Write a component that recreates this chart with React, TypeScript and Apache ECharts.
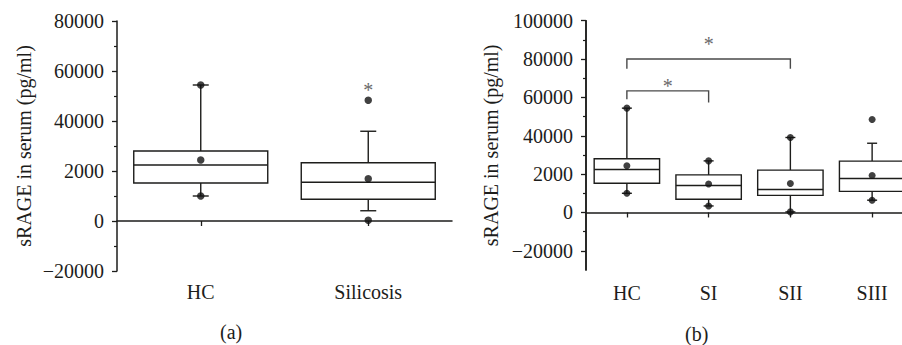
import React, { useEffect, useRef } from "react";
import * as echarts from "echarts";

// ---------- Panel (a) ----------
const catsA = ["HC", "Silicosis"];
const minA = [10000, 4100];
const q1A = [15200, 8700];
const medA = [22400, 15500];
const q3A = [28000, 23300];
const maxA = [54400, 35900];
const meanA = [24400, 16900];
const dotsA = [[0, 54400], [0, 10000], [1, 48300], [1, 300]];
const starsA = [[1, 52600]];
const tickValsA = [-20000, 0, 20000, 40000, 60000, 80000];
const tickLabelsA = ["\u221220000", "0", "2000", "40000", "60000", "80000"];

// ---------- Panel (b) ----------
const catsB = ["HC", "SI", "SII", "SIII"];
const minB = [10000, 3400, 300, 6400];
const q1B = [15200, 6900, 8900, 11000];
const medB = [22400, 14100, 12000, 17700];
const q3B = [28000, 19600, 22100, 26800];
const maxB = [54400, 26900, 39100, 36100];
const meanB = [24400, 14800, 15100, 19300];
const dotsB = [[0, 54400], [0, 10000], [1, 26900], [1, 3400], [2, 39100], [2, 300], [3, 48500], [3, 6400]];
// [from category, to category, top value, left leg end, right leg end, star value]
const bracketsB = [
  [0, 2, 80000, 75000, 75000, 87600],
  [0, 1, 63400, 59000, 57400, 66000],
];
const tickValsB = [-20000, 0, 20000, 40000, 60000, 80000, 100000];
const tickLabelsB = ["\u221220000", "0", "2000", "40000", "60000", "80000", "100000"];
const minorValsB = [-10000, 10000, 30000, 50000, 70000, 90000];

const FONT = "Liberation Serif";
const INK = "#1d1d1b";
const GREY = "#6a6a6a";

function boxRows(mn: number[], q1: number[], md: number[], q3: number[], mx: number[]) {
  return mn.map((_, i) => [i, mn[i], q1[i], md[i], q3[i], mx[i]]);
}

function boxRender(capHalf: number) {
  return (params: any, api: any) => {
    const cat = api.value(0);
    const pMin = api.coord([cat, api.value(1)]);
    const pQ1 = api.coord([cat, api.value(2)]);
    const pMd = api.coord([cat, api.value(3)]);
    const pQ3 = api.coord([cat, api.value(4)]);
    const pMax = api.coord([cat, api.value(5)]);
    const band = api.size([1, 0])[0];
    const half = band * 0.4;
    const x = pMd[0];
    const st = { stroke: INK, lineWidth: 1.4, fill: null };
    return {
      type: "group",
      children: [
        { type: "line", shape: { x1: x, y1: pQ3[1], x2: x, y2: pMax[1] }, style: st },
        { type: "line", shape: { x1: x, y1: pQ1[1], x2: x, y2: pMin[1] }, style: st },
        { type: "line", shape: { x1: x - capHalf, y1: pMax[1], x2: x + capHalf, y2: pMax[1] }, style: st },
        { type: "line", shape: { x1: x - capHalf, y1: pMin[1], x2: x + capHalf, y2: pMin[1] }, style: st },
        {
          type: "rect",
          shape: { x: x - half, y: pQ3[1], width: half * 2, height: pQ1[1] - pQ3[1] },
          style: { stroke: INK, lineWidth: 1.4, fill: "#ffffff" },
        },
        { type: "line", shape: { x1: x - half, y1: pMd[1], x2: x + half, y2: pMd[1] }, style: st },
      ],
    };
  };
}

function starRender(params: any, api: any) {
  const p = api.coord([api.value(0), api.value(1)]);
  return {
    type: "text",
    x: p[0],
    y: p[1],
    style: { text: "*", fontSize: 20, fontFamily: FONT, fill: GREY, align: "center", verticalAlign: "middle" },
  };
}

function bracketRender(params: any, api: any) {
  const a = api.value(0);
  const b = api.value(1);
  const pTopL = api.coord([a, api.value(2)]);
  const pTopR = api.coord([b, api.value(2)]);
  const pL = api.coord([a, api.value(3)]);
  const pR = api.coord([b, api.value(4)]);
  const pStar = api.coord([(a + b) / 2, api.value(5)]);
  const mid = (pTopL[0] + pTopR[0]) / 2;
  return {
    type: "group",
    children: [
      {
        type: "polyline",
        shape: { points: [[pL[0], pL[1]], [pTopL[0], pTopL[1]], [pTopR[0], pTopR[1]], [pR[0], pR[1]]] },
        style: { stroke: "#4a4a4a", lineWidth: 1.4, fill: null },
      },
      {
        type: "text",
        x: mid,
        y: pStar[1],
        style: { text: "*", fontSize: 20, fontFamily: FONT, fill: GREY, align: "center", verticalAlign: "middle" },
      },
    ],
  };
}

const labelFmt = (vals: number[], labels: string[]) => (v: number) => {
  const i = vals.indexOf(v);
  return i >= 0 ? labels[i] : "";
};

export default function App() {
  const ref = useRef<HTMLDivElement>(null);
  useEffect(() => {
    if (!ref.current) return;
    document.body.style.overflow = "hidden";
    document.body.style.margin = "0";
    const chart = echarts.init(ref.current, undefined, { renderer: "svg" });
    const axisLine = { show: true, lineStyle: { color: INK, width: 1.5 } };
    const yName = "sRAGE in serum (pg/ml)";
    const nameStyle = { fontFamily: FONT, fontSize: 20, color: INK };
    const tickLabelStyle = { fontFamily: FONT, fontSize: 20, color: INK };
    const catLabelStyle = { fontFamily: FONT, fontSize: 20, color: INK };

    chart.setOption({
      animation: false,
      backgroundColor: "#ffffff",
      textStyle: { fontFamily: FONT, color: INK },
      grid: [
        { left: 117, top: 21, width: 335, height: 250 },
        { left: 586, top: 20.7, width: 327, height: 249.3 },
      ],
      xAxis: [
        {
          gridIndex: 0,
          type: "category",
          data: catsA,
          boundaryGap: true,
          axisLine,
          axisTick: { show: true, alignWithLabel: true, length: 5, lineStyle: { color: INK, width: 1.3 } },
          axisLabel: { ...catLabelStyle, margin: 11 },
          splitLine: { show: false },
        },
        {
          gridIndex: 1,
          type: "category",
          data: catsB,
          boundaryGap: true,
          axisLine,
          axisTick: { show: true, alignWithLabel: true, length: 5, lineStyle: { color: INK, width: 1.3 } },
          axisLabel: { ...catLabelStyle, margin: 13 },
          splitLine: { show: false },
        },
      ],
      yAxis: [
        {
          gridIndex: 0,
          type: "value",
          min: -20000,
          max: 80000,
          interval: 20000,
          axisLine,
          axisTick: { show: true, length: 5, lineStyle: { color: INK, width: 1.3 } },
          minorTick: { show: true, splitNumber: 2, length: 3, lineStyle: { color: INK, width: 1.2 } },
          axisLabel: { ...tickLabelStyle, margin: 13, formatter: labelFmt(tickValsA, tickLabelsA) },
          splitLine: { show: false },
          name: yName,
          nameLocation: "middle",
          nameGap: 83,
          nameTextStyle: nameStyle,
        },
        {
          gridIndex: 1,
          type: "value",
          min: -30000,
          max: 100000,
          interval: 10000,
          position: "left",
          axisLine,
          axisTick: { show: true, length: 5, customValues: tickValsB, lineStyle: { color: INK, width: 1.3 } },
          axisLabel: {
            ...tickLabelStyle,
            margin: 13,
            customValues: tickValsB,
            formatter: labelFmt(tickValsB, tickLabelsB),
          },
          splitLine: { show: false },
          name: yName,
          nameLocation: "middle",
          nameGap: 85,
          nameTextStyle: nameStyle,
        },
        {
          gridIndex: 1,
          type: "value",
          min: -30000,
          max: 100000,
          interval: 10000,
          position: "left",
          offset: 0,
          axisLine,
          axisTick: { show: true, length: 3, customValues: minorValsB, lineStyle: { color: INK, width: 1.2 } },
          axisLabel: { show: false },
          splitLine: { show: false },
        },
      ],
      series: [
        {
          type: "custom",
          xAxisIndex: 0,
          yAxisIndex: 0,
          renderItem: boxRender(8),
          data: boxRows(minA, q1A, medA, q3A, maxA),
          encode: { x: 0, y: [1, 2, 3, 4, 5] },
          z: 2,
        },
        {
          type: "scatter",
          xAxisIndex: 0,
          yAxisIndex: 0,
          symbol: "circle",
          symbolSize: 7.5,
          itemStyle: { color: "#111" },
          data: [...meanA.map((v, i) => [i, v]), ...dotsA],
          z: 3,
        },
        {
          type: "custom",
          xAxisIndex: 0,
          yAxisIndex: 0,
          renderItem: starRender,
          data: starsA,
          z: 4,
        },
        {
          type: "custom",
          xAxisIndex: 1,
          yAxisIndex: 1,
          renderItem: boxRender(5),
          data: boxRows(minB, q1B, medB, q3B, maxB),
          encode: { x: 0, y: [1, 2, 3, 4, 5] },
          z: 2,
        },
        {
          type: "scatter",
          xAxisIndex: 1,
          yAxisIndex: 1,
          symbol: "circle",
          symbolSize: 7,
          itemStyle: { color: "#111" },
          data: [...meanB.map((v, i) => [i, v]), ...dotsB],
          z: 3,
        },
        {
          type: "custom",
          xAxisIndex: 1,
          yAxisIndex: 1,
          renderItem: bracketRender,
          data: bracketsB,
          encode: { x: [0, 1], y: [2, 3, 4, 5] },
          z: 4,
        },
      ],
      graphic: [
        {
          type: "text",
          left: 232 - 12,
          top: 322,
          style: { text: "(a)", fontFamily: FONT, fontSize: 20, fill: INK },
        },
        {
          type: "text",
          left: 697 - 12,
          top: 324,
          style: { text: "(b)", fontFamily: FONT, fontSize: 20, fill: INK },
        },
      ],
    });
    return () => chart.dispose();
  }, []);
  return (
    <div
      ref={ref}
      style={{ position: "fixed", left: 0, top: 0, width: 930, height: 345, background: "#fff" }}
    />
  );
}
